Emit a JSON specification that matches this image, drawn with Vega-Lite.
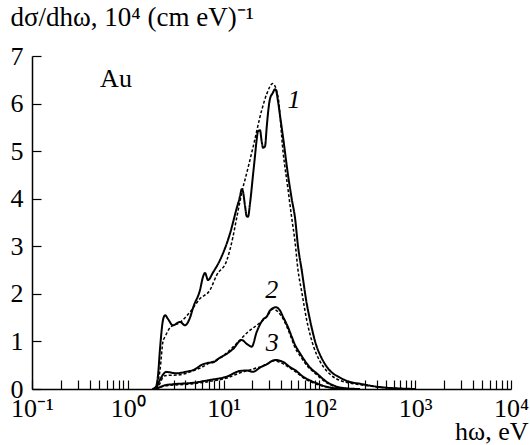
{
  "$schema": "https://vega.github.io/schema/vega-lite/v6.json",
  "autosize": "none",
  "width": 479,
  "height": 333,
  "padding": {"left": 32, "top": 56, "right": 19, "bottom": 56},
  "background": "white",
  "config": {
    "view": {"stroke": null},
    "font": "Liberation Serif",
    "axis": {
      "grid": false,
      "domainColor": "black",
      "domainWidth": 1.5,
      "tickColor": "black",
      "tickWidth": 1.2,
      "tickSize": -9,
      "labelFont": "Liberation Serif",
      "labelFontSize": 26,
      "labelColor": "black",
      "titleFont": "Liberation Serif",
      "titleFontWeight": "normal",
      "titleColor": "black"
    }
  },
  "layer": [
    {
      "data": {
        "values": [
          {"s": "1s", "style": "solid", "E": 1.8, "v": 0},
          {"s": "1s", "style": "solid", "E": 1.97, "v": 0.05},
          {"s": "1s", "style": "solid", "E": 2.07, "v": 0.3},
          {"s": "1s", "style": "solid", "E": 2.17, "v": 0.85},
          {"s": "1s", "style": "solid", "E": 2.33, "v": 1.45},
          {"s": "1s", "style": "solid", "E": 2.45, "v": 1.55},
          {"s": "1s", "style": "solid", "E": 2.63, "v": 1.47},
          {"s": "1s", "style": "solid", "E": 2.95, "v": 1.34},
          {"s": "1s", "style": "solid", "E": 3.51, "v": 1.41},
          {"s": "1s", "style": "solid", "E": 3.95, "v": 1.34},
          {"s": "1s", "style": "solid", "E": 4.46, "v": 1.5},
          {"s": "1s", "style": "solid", "E": 4.84, "v": 1.73},
          {"s": "1s", "style": "solid", "E": 5.67, "v": 2.08},
          {"s": "1s", "style": "solid", "E": 6.1, "v": 2.36},
          {"s": "1s", "style": "solid", "E": 6.4, "v": 2.44},
          {"s": "1s", "style": "solid", "E": 6.87, "v": 2.29},
          {"s": "1s", "style": "solid", "E": 7.75, "v": 2.45},
          {"s": "1s", "style": "solid", "E": 9.17, "v": 2.71},
          {"s": "1s", "style": "solid", "E": 11.67, "v": 3.27},
          {"s": "1s", "style": "solid", "E": 13.7, "v": 3.8},
          {"s": "1s", "style": "solid", "E": 14.84, "v": 4.05},
          {"s": "1s", "style": "solid", "E": 15.45, "v": 4.2},
          {"s": "1s", "style": "solid", "E": 15.94, "v": 4.15},
          {"s": "1s", "style": "solid", "E": 16.73, "v": 3.85},
          {"s": "1s", "style": "solid", "E": 17.42, "v": 3.63},
          {"s": "1s", "style": "solid", "E": 17.98, "v": 3.62},
          {"s": "1s", "style": "solid", "E": 18.87, "v": 3.9},
          {"s": "1s", "style": "solid", "E": 20.28, "v": 4.5},
          {"s": "1s", "style": "solid", "E": 21.27, "v": 4.9},
          {"s": "1s", "style": "solid", "E": 22.16, "v": 5.25},
          {"s": "1s", "style": "solid", "E": 22.87, "v": 5.42},
          {"s": "1s", "style": "solid", "E": 23.99, "v": 5.44},
          {"s": "1s", "style": "solid", "E": 24.99, "v": 5.2},
          {"s": "1s", "style": "solid", "E": 25.78, "v": 5.07},
          {"s": "1s", "style": "solid", "E": 27.05, "v": 5.1},
          {"s": "1s", "style": "solid", "E": 28.18, "v": 5.5},
          {"s": "1s", "style": "solid", "E": 29.08, "v": 5.8},
          {"s": "1s", "style": "solid", "E": 30.5, "v": 6.1},
          {"s": "1s", "style": "solid", "E": 32.54, "v": 6.22},
          {"s": "1s", "style": "solid", "E": 34.4, "v": 6.3},
          {"s": "1s", "style": "solid", "E": 35.24, "v": 6.28},
          {"s": "1s", "style": "solid", "E": 36.97, "v": 6.05},
          {"s": "1s", "style": "solid", "E": 38.79, "v": 5.75},
          {"s": "1s", "style": "solid", "E": 41.69, "v": 5.3},
          {"s": "1s", "style": "solid", "E": 47.01, "v": 4.5},
          {"s": "1s", "style": "solid", "E": 51.38, "v": 4.0},
          {"s": "1s", "style": "solid", "E": 55.63, "v": 3.6},
          {"s": "1s", "style": "solid", "E": 59.8, "v": 3.0},
          {"s": "1s", "style": "solid", "E": 65.34, "v": 2.5},
          {"s": "1s", "style": "solid", "E": 73.69, "v": 1.8},
          {"s": "1s", "style": "solid", "E": 79.8, "v": 1.45},
          {"s": "1s", "style": "solid", "E": 93.72, "v": 0.89},
          {"s": "1s", "style": "solid", "E": 101.5, "v": 0.72},
          {"s": "1s", "style": "solid", "E": 119.2, "v": 0.47},
          {"s": "1s", "style": "solid", "E": 134.4, "v": 0.35},
          {"s": "1s", "style": "solid", "E": 164.1, "v": 0.24},
          {"s": "1s", "style": "solid", "E": 198.9, "v": 0.16},
          {"s": "1s", "style": "solid", "E": 265.3, "v": 0.11},
          {"s": "1s", "style": "solid", "E": 429, "v": 0.04},
          {"s": "1s", "style": "solid", "E": 694, "v": 0.01},
          {"s": "1s", "style": "solid", "E": 1000, "v": 0},

          {"s": "1d", "style": "dashed", "E": 1.97, "v": 0},
          {"s": "1d", "style": "dashed", "E": 2.17, "v": 0.4},
          {"s": "1d", "style": "dashed", "E": 2.33, "v": 1.0},
          {"s": "1d", "style": "dashed", "E": 2.45, "v": 1.1},
          {"s": "1d", "style": "dashed", "E": 2.79, "v": 1.3},
          {"s": "1d", "style": "dashed", "E": 3.51, "v": 1.4},
          {"s": "1d", "style": "dashed", "E": 4.46, "v": 1.62},
          {"s": "1d", "style": "dashed", "E": 5.67, "v": 1.9},
          {"s": "1d", "style": "dashed", "E": 7.21, "v": 2.08},
          {"s": "1d", "style": "dashed", "E": 8.5, "v": 2.4},
          {"s": "1d", "style": "dashed", "E": 10.78, "v": 2.7},
          {"s": "1d", "style": "dashed", "E": 12.53, "v": 3.2},
          {"s": "1d", "style": "dashed", "E": 13.7, "v": 3.6},
          {"s": "1d", "style": "dashed", "E": 14.84, "v": 3.95},
          {"s": "1d", "style": "dashed", "E": 15.94, "v": 4.24},
          {"s": "1d", "style": "dashed", "E": 16.73, "v": 4.4},
          {"s": "1d", "style": "dashed", "E": 20.28, "v": 5.08},
          {"s": "1d", "style": "dashed", "E": 24.99, "v": 5.86},
          {"s": "1d", "style": "dashed", "E": 28.18, "v": 6.2},
          {"s": "1d", "style": "dashed", "E": 32.54, "v": 6.42},
          {"s": "1d", "style": "dashed", "E": 36.97, "v": 6.15},
          {"s": "1d", "style": "dashed", "E": 41.69, "v": 5.0},
          {"s": "1d", "style": "dashed", "E": 47.01, "v": 4.2},
          {"s": "1d", "style": "dashed", "E": 51.38, "v": 3.6},
          {"s": "1d", "style": "dashed", "E": 55.63, "v": 3.1},
          {"s": "1d", "style": "dashed", "E": 59.8, "v": 2.5},
          {"s": "1d", "style": "dashed", "E": 65.34, "v": 2.05},
          {"s": "1d", "style": "dashed", "E": 73.69, "v": 1.45},
          {"s": "1d", "style": "dashed", "E": 79.8, "v": 1.15},
          {"s": "1d", "style": "dashed", "E": 93.72, "v": 0.72},
          {"s": "1d", "style": "dashed", "E": 101.5, "v": 0.58},
          {"s": "1d", "style": "dashed", "E": 119.2, "v": 0.38},
          {"s": "1d", "style": "dashed", "E": 134.4, "v": 0.28},
          {"s": "1d", "style": "dashed", "E": 164.1, "v": 0.18},
          {"s": "1d", "style": "dashed", "E": 198.9, "v": 0.13},
          {"s": "1d", "style": "dashed", "E": 265.3, "v": 0.09},
          {"s": "1d", "style": "dashed", "E": 429, "v": 0.04},
          {"s": "1d", "style": "dashed", "E": 694, "v": 0.01},
          {"s": "1d", "style": "dashed", "E": 1000, "v": 0},

          {"s": "2s", "style": "solid", "E": 1.97, "v": 0},
          {"s": "2s", "style": "solid", "E": 2.2, "v": 0.22},
          {"s": "2s", "style": "solid", "E": 2.33, "v": 0.3},
          {"s": "2s", "style": "solid", "E": 2.5, "v": 0.36},
          {"s": "2s", "style": "solid", "E": 3.2, "v": 0.33},
          {"s": "2s", "style": "solid", "E": 4.0, "v": 0.36},
          {"s": "2s", "style": "solid", "E": 4.84, "v": 0.4},
          {"s": "2s", "style": "solid", "E": 6.1, "v": 0.52},
          {"s": "2s", "style": "solid", "E": 6.87, "v": 0.55},
          {"s": "2s", "style": "solid", "E": 7.75, "v": 0.56},
          {"s": "2s", "style": "solid", "E": 9.17, "v": 0.66},
          {"s": "2s", "style": "solid", "E": 10.78, "v": 0.74},
          {"s": "2s", "style": "solid", "E": 12.53, "v": 0.84},
          {"s": "2s", "style": "solid", "E": 15.45, "v": 1.03},
          {"s": "2s", "style": "solid", "E": 17.42, "v": 0.95},
          {"s": "2s", "style": "solid", "E": 19.65, "v": 0.89},
          {"s": "2s", "style": "solid", "E": 22.16, "v": 1.2},
          {"s": "2s", "style": "solid", "E": 24.99, "v": 1.42},
          {"s": "2s", "style": "solid", "E": 26.4, "v": 1.48},
          {"s": "2s", "style": "solid", "E": 28.18, "v": 1.52},
          {"s": "2s", "style": "solid", "E": 30.5, "v": 1.65},
          {"s": "2s", "style": "solid", "E": 35.24, "v": 1.72},
          {"s": "2s", "style": "solid", "E": 38.79, "v": 1.65},
          {"s": "2s", "style": "solid", "E": 41.69, "v": 1.52},
          {"s": "2s", "style": "solid", "E": 47.01, "v": 1.3},
          {"s": "2s", "style": "solid", "E": 51.38, "v": 1.1},
          {"s": "2s", "style": "solid", "E": 55.63, "v": 0.93},
          {"s": "2s", "style": "solid", "E": 62.73, "v": 0.75},
          {"s": "2s", "style": "solid", "E": 73.69, "v": 0.54},
          {"s": "2s", "style": "solid", "E": 79.8, "v": 0.45},
          {"s": "2s", "style": "solid", "E": 93.72, "v": 0.33},
          {"s": "2s", "style": "solid", "E": 119.2, "v": 0.15},
          {"s": "2s", "style": "solid", "E": 151.6, "v": 0.05},
          {"s": "2s", "style": "solid", "E": 198.9, "v": 0.01},
          {"s": "2s", "style": "solid", "E": 265.3, "v": 0},

          {"s": "2d", "style": "dashed", "E": 1.97, "v": 0},
          {"s": "2d", "style": "dashed", "E": 2.17, "v": 0.12},
          {"s": "2d", "style": "dashed", "E": 2.33, "v": 0.25},
          {"s": "2d", "style": "dashed", "E": 2.45, "v": 0.28},
          {"s": "2d", "style": "dashed", "E": 3.51, "v": 0.3},
          {"s": "2d", "style": "dashed", "E": 4.79, "v": 0.38},
          {"s": "2d", "style": "dashed", "E": 5.67, "v": 0.44},
          {"s": "2d", "style": "dashed", "E": 7.21, "v": 0.55},
          {"s": "2d", "style": "dashed", "E": 9.17, "v": 0.65},
          {"s": "2d", "style": "dashed", "E": 11.67, "v": 0.82},
          {"s": "2d", "style": "dashed", "E": 14.84, "v": 1.03},
          {"s": "2d", "style": "dashed", "E": 17.98, "v": 1.2},
          {"s": "2d", "style": "dashed", "E": 22.16, "v": 1.34},
          {"s": "2d", "style": "dashed", "E": 28.18, "v": 1.52},
          {"s": "2d", "style": "dashed", "E": 32.9, "v": 1.68},
          {"s": "2d", "style": "dashed", "E": 36.97, "v": 1.62},
          {"s": "2d", "style": "dashed", "E": 41.69, "v": 1.48},
          {"s": "2d", "style": "dashed", "E": 47.01, "v": 1.25},
          {"s": "2d", "style": "dashed", "E": 51.38, "v": 1.05},
          {"s": "2d", "style": "dashed", "E": 55.63, "v": 0.87},
          {"s": "2d", "style": "dashed", "E": 62.73, "v": 0.7},
          {"s": "2d", "style": "dashed", "E": 73.69, "v": 0.5},
          {"s": "2d", "style": "dashed", "E": 93.72, "v": 0.3},
          {"s": "2d", "style": "dashed", "E": 119.2, "v": 0.13},
          {"s": "2d", "style": "dashed", "E": 151.6, "v": 0.04},
          {"s": "2d", "style": "dashed", "E": 198.9, "v": 0.01},
          {"s": "2d", "style": "dashed", "E": 265.3, "v": 0},

          {"s": "3s", "style": "solid", "E": 1.97, "v": 0},
          {"s": "3s", "style": "solid", "E": 2.17, "v": 0.04},
          {"s": "3s", "style": "solid", "E": 2.45, "v": 0.08},
          {"s": "3s", "style": "solid", "E": 2.95, "v": 0.1},
          {"s": "3s", "style": "solid", "E": 4.79, "v": 0.13},
          {"s": "3s", "style": "solid", "E": 7.21, "v": 0.19},
          {"s": "3s", "style": "solid", "E": 10.78, "v": 0.26},
          {"s": "3s", "style": "solid", "E": 14.84, "v": 0.38},
          {"s": "3s", "style": "solid", "E": 17.42, "v": 0.39},
          {"s": "3s", "style": "solid", "E": 20.28, "v": 0.36},
          {"s": "3s", "style": "solid", "E": 23.99, "v": 0.45},
          {"s": "3s", "style": "solid", "E": 28.18, "v": 0.52},
          {"s": "3s", "style": "solid", "E": 34.4, "v": 0.61},
          {"s": "3s", "style": "solid", "E": 41.69, "v": 0.57},
          {"s": "3s", "style": "solid", "E": 49.32, "v": 0.46},
          {"s": "3s", "style": "solid", "E": 55.63, "v": 0.4},
          {"s": "3s", "style": "solid", "E": 67.42, "v": 0.26},
          {"s": "3s", "style": "solid", "E": 79.8, "v": 0.18},
          {"s": "3s", "style": "solid", "E": 93.72, "v": 0.12},
          {"s": "3s", "style": "solid", "E": 129, "v": 0.03},
          {"s": "3s", "style": "solid", "E": 164.1, "v": 0.01},
          {"s": "3s", "style": "solid", "E": 200, "v": 0},

          {"s": "3d", "style": "dashed", "E": 1.97, "v": 0},
          {"s": "3d", "style": "dashed", "E": 2.17, "v": 0.03},
          {"s": "3d", "style": "dashed", "E": 2.33, "v": 0.06},
          {"s": "3d", "style": "dashed", "E": 4.79, "v": 0.11},
          {"s": "3d", "style": "dashed", "E": 7.21, "v": 0.16},
          {"s": "3d", "style": "dashed", "E": 10.78, "v": 0.23},
          {"s": "3d", "style": "dashed", "E": 14.84, "v": 0.34},
          {"s": "3d", "style": "dashed", "E": 20.28, "v": 0.42},
          {"s": "3d", "style": "dashed", "E": 28.18, "v": 0.52},
          {"s": "3d", "style": "dashed", "E": 32.54, "v": 0.59},
          {"s": "3d", "style": "dashed", "E": 38.79, "v": 0.56},
          {"s": "3d", "style": "dashed", "E": 49.32, "v": 0.44},
          {"s": "3d", "style": "dashed", "E": 55.63, "v": 0.37},
          {"s": "3d", "style": "dashed", "E": 67.42, "v": 0.24},
          {"s": "3d", "style": "dashed", "E": 93.72, "v": 0.1},
          {"s": "3d", "style": "dashed", "E": 129, "v": 0.03},
          {"s": "3d", "style": "dashed", "E": 164.1, "v": 0.01},
          {"s": "3d", "style": "dashed", "E": 200, "v": 0}
        ]
      },
      "mark": {"type": "line", "color": "black", "interpolate": "monotone"},
      "encoding": {
        "x": {
          "field": "E", "type": "quantitative",
          "scale": {"type": "log", "domain": [0.1, 10000]},
          "axis": {
            "title": "hω, eV",
            "titleAnchor": "end",
            "titleAlign": "right",
            "titleBaseline": "alphabetic",
            "titleX": 496,
            "titleY": 50,
            "titleFontSize": 26,
            "values": [0.1,0.2,0.3,0.4,0.5,0.6,0.7,0.8,0.9,1,2,3,4,5,6,7,8,9,10,20,30,40,50,60,70,80,90,100,200,300,400,500,600,700,800,900,1000,2000,3000,4000,5000,6000,7000,8000,9000,10000],
            "labelExpr": "datum.value == 0.1 ? '10⁻¹' : datum.value == 1 ? '10⁰' : datum.value == 10 ? '10¹' : datum.value == 100 ? '10²' : datum.value == 1000 ? '10³' : datum.value == 10000 ? '10⁴' : ''",
            "labelOverlap": false,
            "labelFlush": false,
            "labelBaseline": "alphabetic",
            "labelPadding": 36
          }
        },
        "y": {
          "field": "v", "type": "quantitative",
          "scale": {"domain": [0, 7], "nice": false, "zero": true},
          "axis": {
            "title": "dσ/dhω, 10⁴ (cm eV)⁻¹",
            "titleFontSize": 27,
            "titleAngle": 0,
            "titleAlign": "left",
            "titleBaseline": "alphabetic",
            "titleX": -22,
            "titleY": -31,
            "titleLimit": 600,
            "values": [0,1,2,3,4,5,6,7],
            "labelPadding": 18,
            "labelBaseline": "middle"
          }
        },
        "detail": {"field": "s"},
        "strokeDash": {
          "field": "style", "type": "nominal",
          "scale": {"domain": ["solid", "dashed"], "range": [[1, 0], [3, 2]]},
          "legend": null
        },
        "strokeWidth": {
          "field": "style", "type": "nominal",
          "scale": {"domain": ["solid", "dashed"], "range": [2, 1.5]},
          "legend": null
        }
      }
    },
    {
      "data": {
        "values": [
          {"t": "1", "E": 54.3, "v": 6.07},
          {"t": "2", "E": 31.8, "v": 2.08},
          {"t": "3", "E": 32.2, "v": 0.96}
        ]
      },
      "mark": {"type": "text", "font": "Liberation Serif", "fontSize": 26, "fontStyle": "italic", "color": "black", "align": "center", "baseline": "middle"},
      "encoding": {
        "x": {"field": "E", "type": "quantitative"},
        "y": {"field": "v", "type": "quantitative"},
        "text": {"field": "t"}
      }
    },
    {
      "data": {"values": [{"t": "Au", "E": 0.753, "v": 6.51}]},
      "mark": {"type": "text", "font": "Liberation Serif", "fontSize": 26, "color": "black", "align": "center", "baseline": "middle"},
      "encoding": {
        "x": {"field": "E", "type": "quantitative"},
        "y": {"field": "v", "type": "quantitative"},
        "text": {"field": "t"}
      }
    }
  ]
}
